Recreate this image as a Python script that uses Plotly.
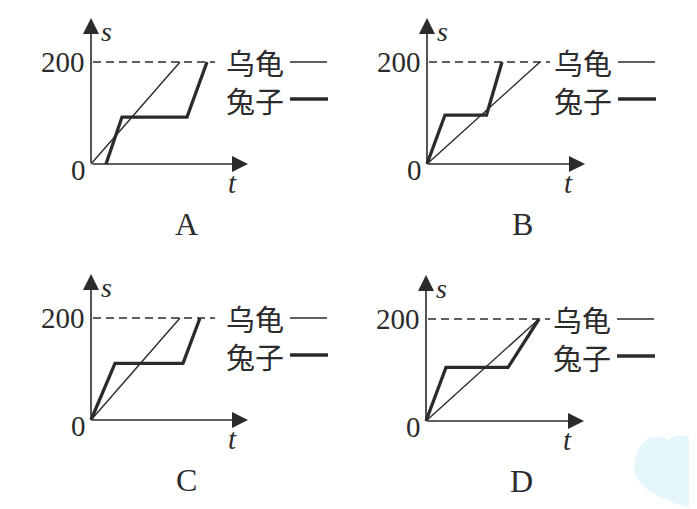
import plotly.graph_objects as go

# ---------------- data (t in arbitrary time units, s in metres) ----------------
panel_labels = ["A", "B", "C", "D"]
finish_distance = 200
tick_labels = ["0", "200"]
axis_titles = ["s", "t"]
legend_names = ["乌龟", "兔子"]

tortoise_t = [[0, 8.9], [0, 11.3], [0, 8.9], [0, 11.3]]
tortoise_s = [[0, 200], [0, 200], [0, 200], [0, 200]]

rabbit_t = [[1.5, 3.1, 9.6, 11.6],
            [0, 1.8, 5.95, 7.5],
            [0, 2.4, 9.2, 10.9],
            [0, 2.0, 8.2, 11.3]]
rabbit_s = [[0, 92, 92, 200],
            [0, 96, 96, 200],
            [0, 111, 111, 200],
            [0, 105, 105, 200]]

dash_end_t = [12.4, 12.3, 12.4, 12.4]

# ---------------- layout geometry (pixels, page coords) ----------------
OFF = 8          # page body margin
W, H = 697 - OFF, 509 - OFF
PX_T = 10.0      # pixels per time unit
PX_S = 0.51      # pixels per metre
boxes = [(0, 348, 0, 254), (348, 697, 0, 254), (0, 348, 254, 509), (348, 697, 254, 509)]
origins = [(91, 164), (427, 164), (91, 420), (426, 421)]
INK = "#2b2b2b"
SERIF = "Liberation Serif, Times New Roman, serif"
CJK = "Noto Sans CJK SC, sans-serif"

fig = go.Figure()
annotations = []
shapes = []

for i in range(4):
    x0, x1, y0, y1 = [v - OFF for v in boxes[i]]
    x0, y0 = max(x0, 0), max(y0, 0)
    ox, oy = origins[i][0] - OFF, origins[i][1] - OFF
    xa = "x" if i == 0 else f"x{i+1}"
    ya = "y" if i == 0 else f"y{i+1}"
    xkey = "xaxis" if i == 0 else f"xaxis{i+1}"
    ykey = "yaxis" if i == 0 else f"yaxis{i+1}"
    fig.update_layout(**{
        xkey: dict(domain=[x0 / W, x1 / W], range=[(x0 - ox) / PX_T, (x1 - ox) / PX_T],
                   visible=False, fixedrange=True, anchor=ya),
        ykey: dict(domain=[1 - y1 / H, 1 - y0 / H], range=[(oy - y1) / PX_S, (oy - y0) / PX_S],
                   visible=False, fixedrange=True, anchor=xa),
    })

    def tx(px):
        return (px - ox) / PX_T

    def sy(py):
        return (oy - py) / PX_S

    # dashed finish line
    fig.add_trace(go.Scatter(x=[0.2, dash_end_t[i]], y=[finish_distance, finish_distance],
                             mode="lines", line=dict(color=INK, width=1.5, dash="8px,5px"),
                             xaxis=xa, yaxis=ya, showlegend=False, hoverinfo="skip"))
    # tortoise (thin)
    fig.add_trace(go.Scatter(x=tortoise_t[i], y=tortoise_s[i], mode="lines",
                             line=dict(color=INK, width=1.4), name=legend_names[0],
                             xaxis=xa, yaxis=ya, showlegend=False))
    # rabbit (thick)
    fig.add_trace(go.Scatter(x=rabbit_t[i], y=rabbit_s[i], mode="lines",
                             line=dict(color=INK, width=3.3), name=legend_names[1],
                             xaxis=xa, yaxis=ya, showlegend=False))

    # axes with arrows
    t_tip = tx(157 + ox) if i % 2 == 0 else tx(158 + ox)
    s_tip = sy(oy - 146)
    for (xx, yy) in [(t_tip, 0), (0, s_tip)]:
        annotations.append(dict(x=xx, y=yy, ax=0, ay=0, xref=xa, yref=ya, axref=xa, ayref=ya,
                                showarrow=True, arrowhead=2, arrowsize=2.0, arrowwidth=1.6,
                                arrowcolor=INK, text=""))

    # tick labels
    annotations.append(dict(x=tx(ox - 4), y=finish_distance, xref=xa, yref=ya, text=tick_labels[1],
                            showarrow=False, xanchor="right", yanchor="middle",
                            font=dict(family=SERIF, size=29, color=INK)))
    annotations.append(dict(x=tx(ox - 13), y=sy(oy + 6), xref=xa, yref=ya, text=tick_labels[0],
                            showarrow=False, xanchor="center", yanchor="middle",
                            font=dict(family=SERIF, size=29, color=INK)))
    # axis titles
    annotations.append(dict(x=tx(ox + 15), y=sy(oy - 133), xref=xa, yref=ya,
                            text="<i>" + axis_titles[0] + "</i>", showarrow=False,
                            font=dict(family=SERIF, size=28, color=INK)))
    annotations.append(dict(x=tx(ox + 141), y=sy(oy + 19), xref=xa, yref=ya,
                            text="<i>" + axis_titles[1] + "</i>", showarrow=False,
                            font=dict(family=SERIF, size=29, color=INK)))
    # panel letter
    annotations.append(dict(x=tx(ox + 95), y=sy(oy + 60), xref=xa, yref=ya, text=panel_labels[i],
                            showarrow=False, font=dict(family=SERIF, size=32, color=INK)))
    # legend text + sample lines
    leg_x = ox + 133 if i % 2 == 0 else ox + 125
    annotations.append(dict(x=tx(leg_x), y=finish_distance, xref=xa, yref=ya, text=legend_names[0],
                            showarrow=False, xanchor="left", yanchor="middle",
                            font=dict(family=CJK, size=29, color=INK)))
    annotations.append(dict(x=tx(leg_x), y=sy(oy - 64), xref=xa, yref=ya, text=legend_names[1],
                            showarrow=False, xanchor="left", yanchor="middle",
                            font=dict(family=CJK, size=29, color=INK)))
    fig.add_trace(go.Scatter(x=[tx(leg_x + 66), tx(leg_x + 103)], y=[finish_distance, finish_distance],
                             mode="lines", line=dict(color=INK, width=1.5),
                             xaxis=xa, yaxis=ya, showlegend=False, hoverinfo="skip"))
    fig.add_trace(go.Scatter(x=[tx(leg_x + 66), tx(leg_x + 104)], y=[sy(oy - 65), sy(oy - 65)],
                             mode="lines", line=dict(color=INK, width=3.3),
                             xaxis=xa, yaxis=ya, showlegend=False, hoverinfo="skip"))


def P(px, py):
    return f"{(px - OFF) / W:.4f} {1 - (py - OFF) / H:.4f}"


# faint blue smudge at bottom right
shapes.append(dict(type="path", xref="paper", yref="paper", layer="below",
                   path=f"M {P(634, 470)} C {P(634, 440)}, {P(655, 430)}, {P(668, 440)} "
                        f"C {P(682, 430)}, {P(697, 438)}, {P(697, 450)} L {P(697, 509)} "
                        f"L {P(690, 509)} C {P(670, 500)}, {P(640, 495)}, {P(634, 470)} Z",
                   fillcolor="#e6f7fc", line=dict(width=0)))

fig.update_layout(width=W, height=H, margin=dict(l=0, r=0, t=0, b=0),
                  paper_bgcolor="white", plot_bgcolor="rgba(0,0,0,0)",
                  annotations=annotations, shapes=shapes, showlegend=False)

fig.write_html("out.html")
